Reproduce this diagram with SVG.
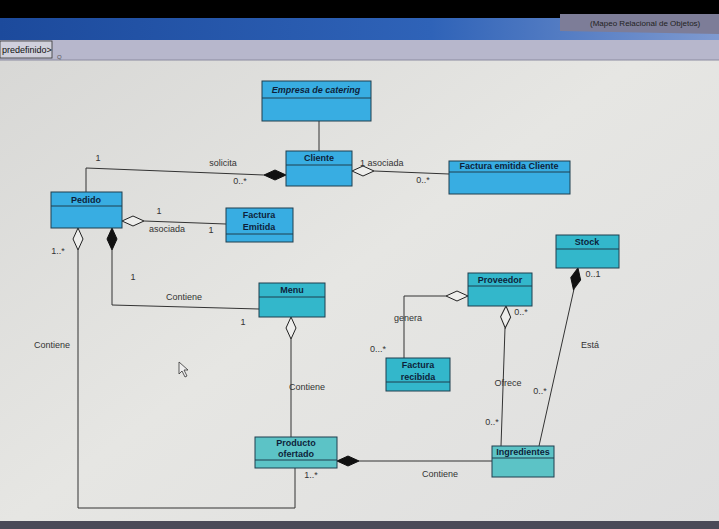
<svg xmlns="http://www.w3.org/2000/svg" width="719" height="529" viewBox="0 0 719 529">
<defs>
<linearGradient id="canvas" x1="0" y1="0" x2="1" y2="1">
<stop offset="0" stop-color="#d6d6d4"/>
<stop offset="0.5" stop-color="#e6e6e3"/>
<stop offset="1" stop-color="#dedede"/>
</linearGradient>
<linearGradient id="band" x1="0" y1="0" x2="1" y2="0">
<stop offset="0" stop-color="#1c4a9c"/>
<stop offset="0.6" stop-color="#2f63b8"/>
<stop offset="1" stop-color="#7f9ad0"/>
</linearGradient>
<path id="dh" d="M0,0 L11,-5 L22,0 L11,5 Z"/>
<style>
.cls{stroke:#1f3f4f;stroke-width:1}
.blue{fill:#38ade2}
.teal{fill:#33b7cb}
.lteal{fill:#5cc3c6}
.name{font-family:"Liberation Sans",Arial,sans-serif;font-size:9px;font-weight:bold;fill:#0d1f3a;text-anchor:middle}
.lbl{font-family:"Liberation Sans",Arial,sans-serif;font-size:9px;fill:#333;}
.c{text-anchor:middle}
.ln{fill:none;stroke:#333;stroke-width:1}
.hol{fill:#eeeeec;stroke:#222;stroke-width:1}
.fil{fill:#111;stroke:#111;stroke-width:1}
</style>
</defs>
<rect x="0" y="0" width="719" height="529" fill="url(#canvas)"/>
<rect x="0" y="0" width="719" height="18" fill="#000"/>
<rect x="0" y="18" width="719" height="22" fill="url(#band)"/>
<polygon points="560,14 719,14 719,34 560,31" fill="#7d7d98"/>
<text x="590" y="26" font-family="Liberation Sans,Arial,sans-serif" font-size="8" fill="#222">(Mapeo Relacional de Objetos)</text>
<rect x="0" y="40" width="719" height="20" fill="#b7b7cc"/>
<rect x="0" y="41" width="52" height="17" fill="#d0d0dc" stroke="#333" stroke-width="0.8"/>
<text x="2" y="53" font-family="Liberation Sans,Arial,sans-serif" font-size="9" fill="#111">predefinido&gt;</text>
<text x="57" y="59" font-family="Liberation Sans,Arial,sans-serif" font-size="6" fill="#555">Q</text>
<line x1="0" y1="60" x2="719" y2="60" stroke="#8a8aa0" stroke-width="1"/>
<rect x="0" y="521" width="719" height="8" fill="#4a4a58"/>

<g id="connectors">
<path class="ln" d="M319,121 V151"/>
<path class="ln" d="M86,192 V168 L264,175"/>
<use href="#dh" class="fil" transform="translate(264,175)"/>
<path class="ln" d="M374,171 L449,174"/>
<use href="#dh" class="hol" transform="translate(352,171)"/>
<path class="ln" d="M144,221 L226,224"/>
<use href="#dh" class="hol" transform="translate(122,221)"/>
<path class="ln" d="M112,250 V305 L259,309"/>
<use href="#dh" class="fil" transform="translate(112,228) rotate(90)"/>
<path class="ln" d="M78,250 V508 H295 V468"/>
<use href="#dh" class="hol" transform="translate(78,228) rotate(90)"/>
<path class="ln" d="M291,339 V437"/>
<use href="#dh" class="hol" transform="translate(291,317) rotate(90)"/>
<path class="ln" d="M446,296 H404 V358"/>
<use href="#dh" class="hol" transform="translate(446,296)"/>
<path class="ln" d="M505,328 L501,446"/>
<use href="#dh" class="hol" transform="translate(506,306) rotate(92)"/>
<path class="ln" d="M574,289 L539,446"/>
<use href="#dh" class="fil" transform="translate(578,268) rotate(102)"/>
<path class="ln" d="M359,461 L492,461"/>
<use href="#dh" class="fil" transform="translate(337,461)"/>
<text class="lbl c" x="98" y="161">1</text>
<text class="lbl c" x="223" y="166">solicita</text>
<text class="lbl c" x="240" y="184">0..*</text>
<text class="lbl" x="360" y="166">1 asociada</text>
<text class="lbl c" x="423" y="183">0..*</text>
<text class="lbl c" x="159" y="214">1</text>
<text class="lbl c" x="167" y="232">asociada</text>
<text class="lbl c" x="211" y="233">1</text>
<text class="lbl c" x="58" y="254">1..*</text>
<text class="lbl c" x="133" y="280">1</text>
<text class="lbl c" x="184" y="300">Contiene</text>
<text class="lbl c" x="243" y="325">1</text>
<text class="lbl c" x="52" y="348">Contiene</text>
<text class="lbl" x="289" y="390">Contiene</text>
<text class="lbl c" x="311" y="478">1..*</text>
<text class="lbl c" x="408" y="321">genera</text>
<text class="lbl c" x="378" y="352">0...*</text>
<text class="lbl c" x="521" y="315">0..*</text>
<text class="lbl c" x="508" y="386">Ofrece</text>
<text class="lbl c" x="492" y="425">0..*</text>
<text class="lbl c" x="593" y="277">0..1</text>
<text class="lbl c" x="590" y="348">Está</text>
<text class="lbl c" x="540" y="394">0..*</text>
<text class="lbl c" x="440" y="477">Contiene</text>
</g>

<g id="empresa">
<rect class="cls blue" x="262" y="81" width="109" height="40"/>
<line class="cls" x1="262" y1="98" x2="371" y2="98"/>
<text class="name" x="316" y="93" font-style="italic">Empresa de catering</text>
</g>
<g id="cliente">
<rect class="cls blue" x="286" y="151" width="66" height="35"/>
<line class="cls" x1="286" y1="165" x2="352" y2="165"/>
<text class="name" x="319" y="161">Cliente</text>
</g>
<g id="factura-emitida-cliente">
<rect class="cls blue" x="449" y="161" width="121" height="33"/>
<line class="cls" x1="449" y1="172" x2="570" y2="172"/>
<text class="name" x="509" y="169" font-size="8">Factura emitida Cliente</text>
</g>
<g id="pedido">
<rect class="cls blue" x="51" y="192" width="71" height="36"/>
<line class="cls" x1="51" y1="206" x2="122" y2="206"/>
<text class="name" x="86" y="203">Pedido</text>
</g>
<g id="factura-emitida">
<rect class="cls blue" x="226" y="208" width="67" height="34"/>
<line class="cls" x1="226" y1="234" x2="293" y2="234"/>
<text class="name" x="259" y="218">Factura</text>
<text class="name" x="259" y="230">Emitida</text>
</g>
<g id="menu">
<rect class="cls teal" x="259" y="283" width="66" height="34"/>
<line class="cls" x1="259" y1="297" x2="325" y2="297"/>
<text class="name" x="292" y="293">Menu</text>
</g>
<g id="stock">
<rect class="cls teal" x="556" y="235" width="63" height="33"/>
<line class="cls" x1="556" y1="249" x2="619" y2="249"/>
<text class="name" x="587" y="245">Stock</text>
</g>
<g id="proveedor">
<rect class="cls teal" x="468" y="273" width="64" height="33"/>
<line class="cls" x1="468" y1="286" x2="532" y2="286"/>
<text class="name" x="500" y="283">Proveedor</text>
</g>
<g id="factura-recibida">
<rect class="cls teal" x="386" y="358" width="64" height="33"/>
<line class="cls" x1="386" y1="382" x2="450" y2="382"/>
<text class="name" x="418" y="368">Factura</text>
<text class="name" x="418" y="380">recibida</text>
</g>
<g id="producto-ofertado">
<rect class="cls lteal" x="255" y="437" width="82" height="31"/>
<line class="cls" x1="255" y1="460" x2="337" y2="460"/>
<text class="name" x="296" y="446">Producto</text>
<text class="name" x="296" y="457">ofertado</text>
</g>
<g id="ingredientes">
<rect class="cls lteal" x="492" y="446" width="62" height="31"/>
<line class="cls" x1="492" y1="458" x2="554" y2="458"/>
<text class="name" x="523" y="455">Ingredientes</text>
</g>
<polygon points="179,362 179,374 182,371 185,377 187,376 184,370 188,370" fill="#eee" stroke="#333" stroke-width="0.8"/>
</svg>
